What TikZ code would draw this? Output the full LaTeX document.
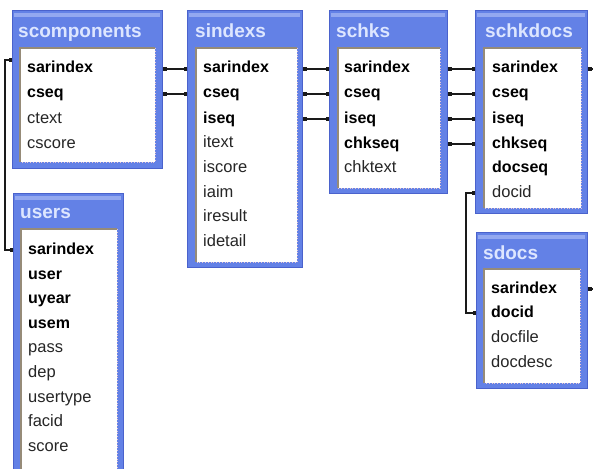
\documentclass[tikz,border=0pt]{standalone}
\usepackage{fontspec}
\setmainfont{Liberation Sans}
\usetikzlibrary{arrows.meta,calc}
\definecolor{frameblue}{HTML}{6381E6}
\definecolor{frameedge}{HTML}{4A62CC}
\definecolor{framelight}{HTML}{93A8F0}
\definecolor{titletext}{HTML}{DDE6FF}
\definecolor{innerline}{HTML}{968B78}
\definecolor{innerdot}{HTML}{E8C8D0}
\definecolor{linkcol}{HTML}{1A1A1A}
\tikzset{
  tableframe/.style={draw=frameedge, fill=frameblue, line width=1pt, inner sep=0pt, anchor=north west},
  tablepanel/.style={fill=white, draw=none, inner sep=0pt, anchor=north west},
  tabletitle/.style={text=titletext, font=\fontsize{19}{19}\selectfont\bfseries, inner sep=0pt, text height=14pt, text depth=4pt, anchor=west},
  keyfield/.style={text=black, font=\fontsize{16}{16}\selectfont\bfseries, inner sep=0pt, text height=11.5pt, text depth=3.5pt, anchor=west},
  plainfield/.style={text=black!85, font=\fontsize{16.5}{16.5}\selectfont, inner sep=0pt, text height=11.5pt, text depth=3.5pt, anchor=west},
  link/.style={draw=linkcol, line width=1.5pt, {Square[length=3.5pt,width=3.5pt]}-{Square[length=3.5pt,width=3.5pt]}},
  stublink/.style={draw=linkcol, line width=1.5pt, {Square[length=3.5pt,width=3.5pt]}-}
}
% #1 name, #2 x1, #3 y1, #4 x2, #5 y2, #6 ix1, #7 iy1, #8 ix2, #9 iy2
\newcommand{\dbtable}[9]{%
  \node[tableframe, minimum width=#4pt-#2pt, minimum height=#5pt-#3pt] (#1) at (#2,#3) {};
  \fill[framelight] (#2+2,#3+3) rectangle (#4-2,#3+7);
  \node[tablepanel, minimum width=#8pt-#6pt, minimum height=#9pt-#7pt] (#1p) at (#6,#7) {};
  \draw[innerline, line width=1.2pt] (#6,#9) -- (#6,#7) -- (#8,#7);
  \draw[innerdot, line width=0.8pt, dotted] (#8,#7) -- (#8,#9) -- (#6,#9);
}
\begin{document}
\begin{tikzpicture}[x=1pt, y=-1pt]
\useasboundingbox (0,0) rectangle (593,468);
\clip (0,0) rectangle (593,468);

% scomponents
\dbtable{sc}{12}{10}{162}{168}{20}{48}{155}{162}
\node[tabletitle] (sct) at (18,33) {scomponents};
\node[keyfield]   (sc1) at (27,69)  {sarindex};
\node[keyfield]   (sc2) at (27,94)  {cseq};
\node[plainfield] (sc3) at (27,119) {ctext};
\node[plainfield] (sc4) at (27,144) {cscore};

% sindexs
\dbtable{si}{187}{10}{302}{267}{196}{48}{297}{262}
\node[tabletitle] (sit) at (195,33) {sindexs};
\node[keyfield]   (si1) at (203,69)  {sarindex};
\node[keyfield]   (si2) at (203,94)  {cseq};
\node[keyfield]   (si3) at (203,119) {iseq};
\node[plainfield] (si4) at (203,143) {itext};
\node[plainfield] (si5) at (203,168) {iscore};
\node[plainfield] (si6) at (203,193) {iaim};
\node[plainfield] (si7) at (203,217) {iresult};
\node[plainfield] (si8) at (203,242) {idetail};

% schks
\dbtable{sh}{329}{10}{447}{193}{338}{48}{440}{188}
\node[tabletitle] (sht) at (336,33) {schks};
\node[keyfield]   (sh1) at (344,69)  {sarindex};
\node[keyfield]   (sh2) at (344,94)  {cseq};
\node[keyfield]   (sh3) at (344,119) {iseq};
\node[keyfield]   (sh4) at (344,144) {chkseq};
\node[plainfield] (sh5) at (344,168) {chktext};

% schkdocs
\dbtable{sk}{475}{10}{587}{213}{484}{48}{581}{208}
\node[tabletitle] (skt) at (485,33) {schkdocs};
\node[keyfield]   (sk1) at (492,69)  {sarindex};
\node[keyfield]   (sk2) at (492,94)  {cseq};
\node[keyfield]   (sk3) at (492,119) {iseq};
\node[keyfield]   (sk4) at (492,144) {chkseq};
\node[keyfield]   (sk5) at (492,168) {docseq};
\node[plainfield] (sk6) at (492,193) {docid};

% sdocs
\dbtable{sd}{476}{232}{587}{388}{484}{269}{580}{383}
\node[tabletitle] (sdt) at (483,254) {sdocs};
\node[keyfield]   (sd1) at (491,289) {sarindex};
\node[keyfield]   (sd2) at (491,313) {docid};
\node[plainfield] (sd3) at (491,338) {docfile};
\node[plainfield] (sd4) at (491,363) {docdesc};

% users
\dbtable{us}{13}{193}{123}{480}{21}{229}{117}{476}
\node[tabletitle] (ust) at (20,213) {users};
\node[keyfield]   (us1) at (28,250) {sarindex};
\node[keyfield]   (us2) at (28,275) {user};
\node[keyfield]   (us3) at (28,299) {uyear};
\node[keyfield]   (us4) at (28,324) {usem};
\node[plainfield] (us5) at (28,348) {pass};
\node[plainfield] (us6) at (28,373) {dep};
\node[plainfield] (us7) at (28,398) {usertype};
\node[plainfield] (us8) at (28,422) {facid};
\node[plainfield] (us9) at (28,447) {score};

% connectors
\draw[link] (sc.east |- sc1) -- (si.west |- si1);
\draw[link] (sc.east |- sc2) -- (si.west |- si2);
\draw[link] (si.east |- si1) -- (sh.west |- sh1);
\draw[link] (si.east |- si2) -- (sh.west |- sh2);
\draw[link] (si.east |- si3) -- (sh.west |- sh3);
\draw[link] (sh.east |- sh1) -- (sk.west |- sk1);
\draw[link] (sh.east |- sh2) -- (sk.west |- sk2);
\draw[link] (sh.east |- sh3) -- (sk.west |- sk3);
\draw[link] (sh.east |- sh4) -- (sk.west |- sk4);

\coordinate (scport) at (12,60);
\draw[link] (scport) -- ++(-7,0) |- (us.west |- us1);
\draw[link] (sk.west |- sk6) -- ++(-9,0) |- (sd.west |- sd2);

\coordinate (skout) at (596,69);
\coordinate (sdout) at (596,289);
\draw[stublink] (sk.east |- sk1) -- (skout);
\draw[stublink] (sd.east |- sd1) -- (sdout);
\end{tikzpicture}
\end{document}
